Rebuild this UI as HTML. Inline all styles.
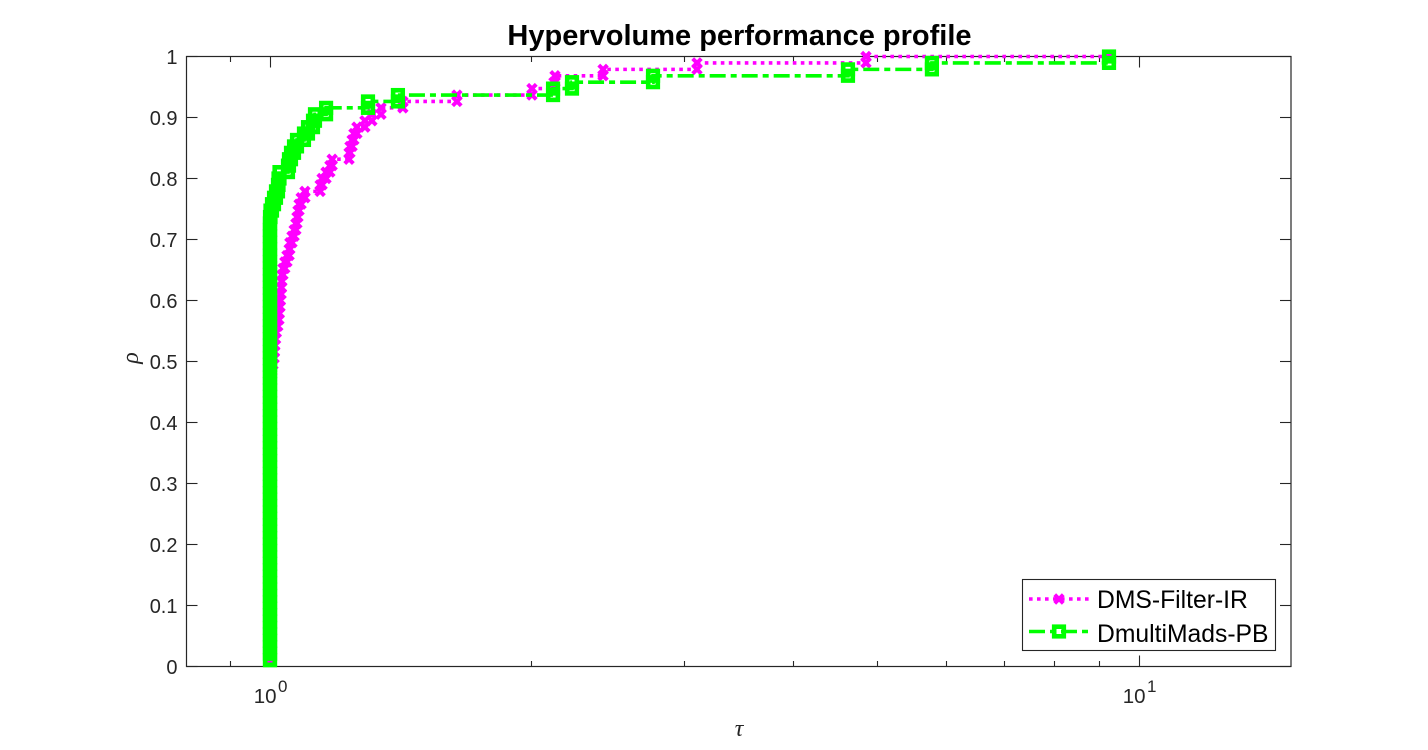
<!DOCTYPE html>
<html lang="en">
<head>
<meta charset="utf-8">
<title>Hypervolume performance profile</title>
<style>
html,body{margin:0;padding:0;background:#fff;}
svg{display:block;font-family:"Liberation Sans",Arial,sans-serif;}
</style>
</head>
<body>
<svg id="chart" xmlns="http://www.w3.org/2000/svg" width="1428" height="750" viewBox="0 0 1428 750">
  <rect x="0" y="0" width="1428" height="750" fill="#ffffff"/>
  <g id="grid-axes"></g>
  <rect x="186.5" y="56.5" width="1104.5" height="610" fill="none" stroke="#262626" stroke-width="1.2"/>
  <g id="series-layer"></g>
  <g id="label-layer"></g>
  <text x="739.5" y="45" text-anchor="middle" font-size="29" font-weight="bold" fill="#000000">Hypervolume performance profile</text>
  <text x="739" y="736" text-anchor="middle" font-size="24" font-style="italic" fill="#262626" style="font-family:'Liberation Serif','DejaVu Serif',serif">τ</text>
  <text transform="translate(138,358) rotate(-90)" text-anchor="middle" font-size="24" font-style="italic" fill="#262626" style="font-family:'Liberation Serif','DejaVu Serif',serif">ρ</text>
  <g>
    <rect x="1022.5" y="579.5" width="253" height="71" fill="#ffffff" stroke="#262626" stroke-width="1.1"/>
    <g>
      <line x1="1029" y1="599" x2="1089" y2="599" stroke="#ff00ff" stroke-width="3.6" stroke-dasharray="3.6 4.4"/>
      <path d="M1054.7 594.7L1063.3 603.3M1054.7 603.3L1063.3 594.7" stroke="#ff00ff" stroke-width="4" fill="none"/>
      <text x="1097" y="608" font-size="24.7" fill="#000000">DMS-Filter-IR</text>
    </g>
    <g>
      <line x1="1029" y1="631.5" x2="1089" y2="631.5" stroke="#00ff00" stroke-width="3.6" stroke-dasharray="16 5 6 5"/>
      <rect x="1054.2" y="626.7" width="9.6" height="9.6" fill="none" stroke="#00ff00" stroke-width="4.6"/>
      <text x="1097" y="642" font-size="24.7" fill="#000000">DmultiMads-PB</text>
    </g>
  </g>
</svg>
<script>
// Performance profile values.
const yTickValues = [0, 0.1, 0.2, 0.3, 0.4, 0.5, 0.6, 0.7, 0.8, 0.9, 1];
const yTickLabels = ["0", "0.1", "0.2", "0.3", "0.4", "0.5", "0.6", "0.7", "0.8", "0.9", "1"];
const xMajorTicks = [1, 10];
const xMajorBases = ["10", "10"];
const xMajorExponents = ["0", "1"];
const xMinorTicks = [0.9, 2, 3, 4, 5, 6, 7, 8, 9];

const dmsFilterTau = [
  1,1,1,1,1,1,1,1,1,1,
  1,1,1,1,1,1,1,1,1,1,
  1,1,1,1,1,1,1,1,1,1,
  1,1,1,1,1,1,1,1,1,1,
  1,1,1,1.001,1.003,1.004,1.005,1.008,1.011,1.012,
  1.013,1.015,1.017,1.021,1.024,1.025,1.027,1.028,1.030,1.031,
  1.032,1.035,1.040,1.046,1.052,1.054,1.060,1.066,1.071,1.074,
  1.077,1.080,1.086,1.097,1.142,1.148,1.160,1.172,1.179,1.233,
  1.236,1.243,1.249,1.259,1.286,1.310,1.342,1.422,1.641,2.002,
  2.122,2.128,2.417,3.100,4.851,9.236
];
const dmsFilterRho = [
  0.0105,0.0211,0.0316,0.0421,0.0526,0.0632,0.0737,0.0842,0.0947,0.1053,
  0.1158,0.1263,0.1368,0.1474,0.1579,0.1684,0.1789,0.1895,0.2,0.2105,
  0.2211,0.2316,0.2421,0.2526,0.2632,0.2737,0.2842,0.2947,0.3053,0.3158,
  0.3263,0.3368,0.3474,0.3579,0.3684,0.3789,0.3895,0.4,0.4105,0.4211,
  0.4316,0.4421,0.4526,0.4632,0.4737,0.4842,0.4947,0.5053,0.5158,0.5263,
  0.5368,0.5474,0.5579,0.5684,0.5789,0.5895,0.6,0.6105,0.6211,0.6316,
  0.6421,0.6526,0.6632,0.6737,0.6842,0.6947,0.7053,0.7158,0.7263,0.7368,
  0.7474,0.7579,0.7684,0.7789,0.7895,0.8,0.8105,0.8211,0.8316,0.8421,
  0.8526,0.8632,0.8737,0.8842,0.8947,0.9053,0.9158,0.9263,0.9368,0.9474,
  0.9579,0.9684,0.9789,0.9895,1,1
];

const dmultiMadsTau = [
  1,1,1,1,1,1,1,1,1,1,
  1,1,1,1,1,1,1,1,1,1,
  1,1,1,1,1,1,1,1,1,1,
  1,1,1,1,1,1,1,1,1,1,
  1,1,1,1,1,1,1,1,1,1,
  1,1,1,1,1,1,1,1,1,1,
  1,1,1,1,1,1,1,1,1,1,
  1.0013,1.0053,1.0107,1.016,1.0214,1.0228,1.0255,1.0488,1.0516,1.0572,
  1.0657,1.0742,1.0942,1.1059,1.1207,1.1266,1.1602,1.2965,1.4035,2.117,
  2.226,2.759,4.625,5.777,9.236
];
const dmultiMadsRho = [
  0.0105,0.0211,0.0316,0.0421,0.0526,0.0632,0.0737,0.0842,0.0947,0.1053,
  0.1158,0.1263,0.1368,0.1474,0.1579,0.1684,0.1789,0.1895,0.2,0.2105,
  0.2211,0.2316,0.2421,0.2526,0.2632,0.2737,0.2842,0.2947,0.3053,0.3158,
  0.3263,0.3368,0.3474,0.3579,0.3684,0.3789,0.3895,0.4,0.4105,0.4211,
  0.4316,0.4421,0.4526,0.4632,0.4737,0.4842,0.4947,0.5053,0.5158,0.5263,
  0.5368,0.5474,0.5579,0.5684,0.5789,0.5895,0.6,0.6105,0.6211,0.6316,
  0.6421,0.6526,0.6632,0.6737,0.6842,0.6947,0.7053,0.7158,0.7263,0.7368,
  0.7474,0.7579,0.7684,0.7789,0.7895,0.8,0.8105,0.8211,0.8316,0.8421,
  0.8526,0.8632,0.8737,0.8842,0.8947,0.9053,0.9158,0.9263,0.9368,0.9474,
  0.9579,0.9684,0.9789,0.9895,1
];

const NS = 'http://www.w3.org/2000/svg';
const plotTop = 56.5, plotBottom = 666.5, plotLeft = 186.5, plotRight = 1291;
const decadeOrigin = 270, decadeWidth = 869;

function xScale(tau) {
  return decadeOrigin + decadeWidth * Math.log10(tau);
}
function yScale(rho) {
  return plotBottom - (plotBottom - plotTop) * rho;
}
function make(tag, attrs, parent) {
  const el = document.createElementNS(NS, tag);
  for (const k in attrs) el.setAttribute(k, attrs[k]);
  parent.appendChild(el);
  return el;
}

const axesLayer = document.getElementById('grid-axes');
const labelLayer = document.getElementById('label-layer');
const seriesLayer = document.getElementById('series-layer');
const axisStyle = { stroke: '#262626', 'stroke-width': 1.1 };

yTickValues.forEach(function (v, i) {
  const y = Math.round(yScale(v) - 0.5) + 0.5;
  const left = make('line', Object.assign({ x1: plotLeft, x2: plotLeft + 11, y1: y, y2: y }, axisStyle), axesLayer);
  
  
  const right = make('line', Object.assign({ x1: plotRight - 11, x2: plotRight, y1: y, y2: y }, axisStyle), axesLayer);
  
  
  const label = make('text', { x: 177.5, y: y + 7.5, 'text-anchor': 'end', 'font-size': 20, fill: '#262626' }, labelLayer);
  
  
  label.textContent = yTickLabels[i];
});

xMinorTicks.forEach(function (v) {
  const x = Math.round(xScale(v) - 0.5) + 0.5;
  const bottom = make('line', Object.assign({ x1: x, x2: x, y1: plotBottom - 5.5, y2: plotBottom }, axisStyle), axesLayer);
  
  
  const top = make('line', Object.assign({ x1: x, x2: x, y1: plotTop, y2: plotTop + 5.5 }, axisStyle), axesLayer);
  
  
});

xMajorTicks.forEach(function (v, i) {
  const x = Math.round(xScale(v) - 0.5) + 0.5;
  const bottom = make('line', Object.assign({ x1: x, x2: x, y1: plotBottom - 11, y2: plotBottom }, axisStyle), axesLayer);
  
  
  const top = make('line', Object.assign({ x1: x, x2: x, y1: plotTop, y2: plotTop + 11 }, axisStyle), axesLayer);
  
  
  const base = make('text', { x: x + 6, y: 703, 'text-anchor': 'end', 'font-size': 20.5, fill: '#262626' }, labelLayer);
  
  
  base.textContent = xMajorBases[i];
  const exp = make('text', { x: x + 7.5, y: 692, 'font-size': 17, fill: '#262626' }, labelLayer);
  
  
  exp.textContent = xMajorExponents[i];
});

function stairVertices(taus, rhos) {
  const verts = [];
  for (let i = 0; i < taus.length; i++) {
    if (i > 0) verts.push([taus[i], rhos[i - 1]]);
    verts.push([taus[i], rhos[i]]);
  }
  return verts;
}

function drawStairLine(verts, attrs, name) {
  const d = verts.map(function (p, i) {
    return (i ? 'L' : 'M') + xScale(p[0]).toFixed(2) + ' ' + yScale(p[1]).toFixed(2);
  }).join('');
  const path = make('path', Object.assign({ d: d, fill: 'none' }, attrs), seriesLayer);
  
  
}

// DMS-Filter-IR: dotted magenta with x markers
const dmsVerts = stairVertices(dmsFilterTau, dmsFilterRho);
drawStairLine(dmsVerts, { stroke: '#ff00ff', 'stroke-width': 3.6, 'stroke-dasharray': '3.6 4.4' }, 'line-dms-filter-ir');
dmsVerts.forEach(function (p) {
  const cx = xScale(p[0]), cy = yScale(p[1]), r = 4.3;
  const m = make('path', {
    d: 'M' + (cx - r) + ' ' + (cy - r) + 'L' + (cx + r) + ' ' + (cy + r) + 'M' + (cx - r) + ' ' + (cy + r) + 'L' + (cx + r) + ' ' + (cy - r),
    stroke: '#ff00ff', 'stroke-width': 4, fill: 'none'
  }, seriesLayer);
  
  
});

// DmultiMads-PB: dash-dot green with square markers
const dmmVerts = stairVertices(dmultiMadsTau, dmultiMadsRho);
drawStairLine(dmmVerts, { stroke: '#00ff00', 'stroke-width': 3.6, 'stroke-dasharray': '16 5 6 5' }, 'line-dmultimads-pb');
dmmVerts.forEach(function (p) {
  const cx = xScale(p[0]), cy = yScale(p[1]), s = 9.6;
  const m = make('rect', {
    x: cx - s / 2, y: cy - s / 2, width: s, height: s,
    fill: 'none', stroke: '#00ff00', 'stroke-width': 4.6
  }, seriesLayer);
  
  
});
</script>
</body>
</html>
